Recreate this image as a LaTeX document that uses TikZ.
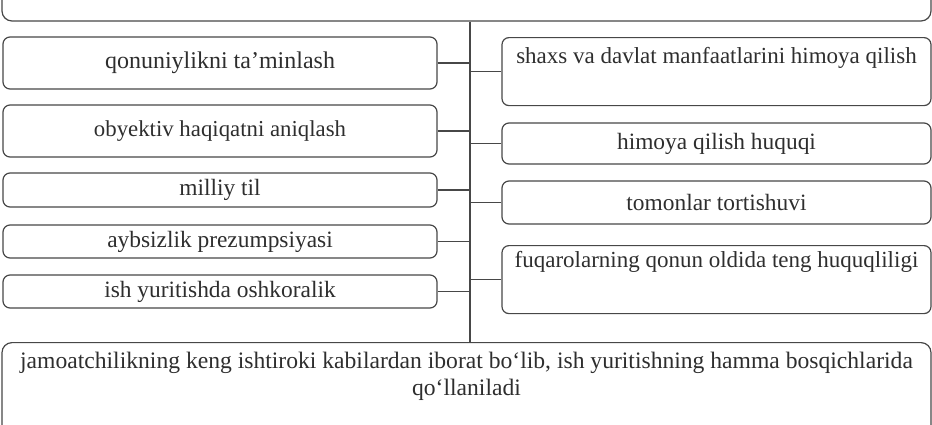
\documentclass[tikz,border=0pt]{standalone}
\usepackage{fontspec}
\setmainfont{Liberation Serif}
\begin{document}
\begin{tikzpicture}[x=0.5pt,y=-0.5pt,
  line width=0.6pt,
  ink/.style={draw=black!72},
  box/.style={ink, rounded corners=3.5pt, inner sep=0pt, text=black!82,
    font=\fontsize{11.7}{14}\selectfont},
  lbox/.style={box, minimum width=217pt},
  rbox/.style={box, minimum width=214.5pt},
  wbox/.style={box, minimum width=464.5pt, rounded corners=5pt},
  link/.style={ink, line width=0.55pt}]
\useasboundingbox (0,0) rectangle (932,424);
\clip (0,0) rectangle (932,424);
% top and bottom boxes
\node[wbox, minimum height=25.5pt] (top) at (466.5,-4.5) {};
\node[wbox, anchor=north, text height=13pt, text depth=41pt] (bot) at (466.5,342)
  {\parbox[t]{460pt}{\centering\fontsize{11.8}{13.5}\selectfont jamoatchilikning keng ishtiroki kabilardan iborat bo‘lib, ish yuritishning hamma bosqichlarida\\ qo‘llaniladi}};
% left column
\node[lbox, minimum height=26pt, font=\fontsize{12}{14}\selectfont] (l1) at (220,63) {qonuniylikni ta’minlash};
\node[lbox, minimum height=26pt, font=\fontsize{11.4}{14}\selectfont] (l2) at (220,131) {obyektiv haqiqatni aniqlash};
\node[lbox, minimum height=17pt] (l3) at (220,190) {milliy til};
\node[lbox, minimum height=16.5pt] (l4) at (220,241.5) {aybsizlik prezumpsiyasi};
\node[lbox, minimum height=16.5pt] (l5) at (220,291.5) {ish yuritishda oshkoralik};
% right column
\node[rbox, anchor=north, text height=13pt, text depth=21pt, font=\fontsize{11.5}{14}\selectfont] (r1) at (716.5,37) {shaxs va davlat manfaatlarini himoya qilish};
\node[rbox, minimum height=20.5pt] (r2) at (716.5,143.5) {himoya qilish huquqi};
\node[rbox, minimum height=21.5pt] (r3) at (716.5,202.5) {tomonlar tortishuvi};
\node[rbox, anchor=north, text height=11pt, text depth=23pt, font=\fontsize{11.5}{14}\selectfont] (r4) at (716.5,245) {fuqarolarning qonun oldida teng huquqliligi};
% spine and branches
\coordinate (vx) at (470,0);
\draw[link] (top.south -| vx) -- (bot.north -| vx);
\foreach \n in {l1,l2,l3,l4,l5} \draw[link] (\n.east) -- (\n.east -| vx);
\foreach \n in {r1,r2,r3,r4} \draw[link] (\n.west) -- (\n.west -| vx);
\end{tikzpicture}
\end{document}
